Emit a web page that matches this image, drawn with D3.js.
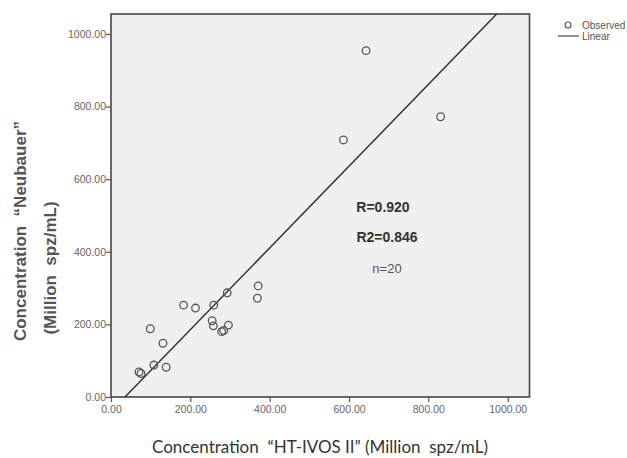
<!DOCTYPE html>
<html><head><meta charset="utf-8">
<script src="https://cdn.jsdelivr.net/npm/d3@7"></script>
<style>body{margin:0;background:#fff}svg{display:block}</style>
</head><body>
<svg id="c" width="627" height="458"></svg>
<script>
const htivos = [70.6, 75.6, 99, 108, 131, 139, 183, 213, 259, 255, 258, 279, 284, 296, 293, 371, 369, 586, 643, 831];
const neubauer = [68.9, 64.7, 188, 88, 148, 82, 253, 245, 253, 210, 196, 180, 183, 198, 287, 306, 272, 708, 954, 772];
const tickValues = [0, 200, 400, 600, 800, 1000];
const fitSlope = 1.126;
const fitIntercept = -39.8;
const stats = ["R=0.920", "R2=0.846", "n=20"];
const legendLabels = ["Observed", "Linear"];

const svg = d3.select("#c");
const x = d3.scaleLinear().domain([0, 1055]).range([111, 529.5]);
const y = d3.scaleLinear().domain([0, 1055]).range([397, 14]);

svg.append("rect").attr("x", x(0)).attr("y", y(1055))
  .attr("width", x(1055) - x(0)).attr("height", y(0) - y(1055))
  .attr("fill", "#f0f0f0");

const xAxis = svg.append("g").attr("transform", `translate(0,${y(0)})`)
  .call(d3.axisBottom(x).tickValues(tickValues).tickFormat(d3.format(".2f")).tickSize(5).tickSizeOuter(0));
const yAxis = svg.append("g").attr("transform", `translate(${x(0)},0)`)
  .call(d3.axisLeft(y).tickValues(tickValues).tickFormat(d3.format(".2f")).tickSize(5).tickSizeOuter(0));
[xAxis, yAxis].forEach(g => {
  g.select(".domain").remove();
  g.selectAll(".tick line").attr("stroke", "#555").attr("stroke-width", 1.2);
  g.selectAll(".tick text").attr("fill", "#666").attr("font-family", "Liberation Sans, Arial, sans-serif").attr("font-size", 10.5);
});
xAxis.selectAll(".tick text").attr("dy", "1.2em").attr("y", 3);
yAxis.selectAll(".tick text").attr("x", -5);

// frame
svg.append("rect").attr("x", x(0)).attr("y", y(1055))
  .attr("width", x(1055) - x(0)).attr("height", y(0) - y(1055))
  .attr("fill", "none").attr("stroke", "#444").attr("stroke-width", 1.6);

// fit line
const x0 = -fitIntercept / fitSlope;
const x1 = (1055 - fitIntercept) / fitSlope;
svg.append("line").attr("x1", x(x0)).attr("y1", y(0)).attr("x2", x(x1)).attr("y2", y(1055))
  .attr("stroke", "#333").attr("stroke-width", 1.5);

// points
svg.append("g").selectAll("circle").data(htivos.map((v, i) => [v, neubauer[i]]))
  .join("circle").attr("cx", d => x(d[0])).attr("cy", d => y(d[1])).attr("r", 3.8)
  .attr("fill", "none").attr("stroke", "#555").attr("stroke-width", 1.3);

// stats
const sf = "Liberation Sans, Arial, sans-serif";
svg.append("text").attr("x", 383).attr("y", 212).attr("text-anchor", "middle").attr("font-family", sf)
  .attr("font-size", 14).attr("font-weight", "bold").attr("fill", "#333").text(stats[0]);
svg.append("text").attr("x", 387).attr("y", 242).attr("text-anchor", "middle").attr("font-family", sf)
  .attr("font-size", 14).attr("font-weight", "bold").attr("fill", "#333").text(stats[1]);
svg.append("text").attr("x", 387).attr("y", 273).attr("text-anchor", "middle").attr("font-family", sf)
  .attr("font-size", 13).attr("fill", "#555").text(stats[2]);

// axis titles
svg.append("text").attr("x", 320).attr("y", 453).attr("text-anchor", "middle")
  .attr("font-family", "Lato, sans-serif").attr("font-size", 17).attr("fill", "#333")
  .text("Concentration \u00a0\u201cHT-IVOS II\u201d (Million \u00a0spz/mL)");
svg.append("text").attr("transform", "translate(26,231) rotate(-90)").attr("text-anchor", "middle")
  .attr("font-family", sf).attr("font-size", 17).attr("font-weight", "bold").attr("fill", "#555")
  .text("Concentration \u00a0\u201cNeubauer\u201d");
svg.append("text").attr("transform", "translate(56,268) rotate(-90)").attr("text-anchor", "middle")
  .attr("font-family", sf).attr("font-size", 17).attr("font-weight", "bold").attr("fill", "#555")
  .text("(Million \u00a0spz/mL)");

// legend
svg.append("circle").attr("cx", 568).attr("cy", 25).attr("r", 3).attr("fill", "none").attr("stroke", "#555").attr("stroke-width", 1.2);
svg.append("line").attr("x1", 558).attr("x2", 579).attr("y1", 36).attr("y2", 36).attr("stroke", "#444").attr("stroke-width", 1.2);
svg.append("text").attr("x", 582).attr("y", 28.5).attr("font-family", sf).attr("font-size", 10).attr("fill", "#555").text(legendLabels[0]);
svg.append("text").attr("x", 582).attr("y", 39.5).attr("font-family", sf).attr("font-size", 10).attr("fill", "#555").text(legendLabels[1]);
</script>
</body></html>
